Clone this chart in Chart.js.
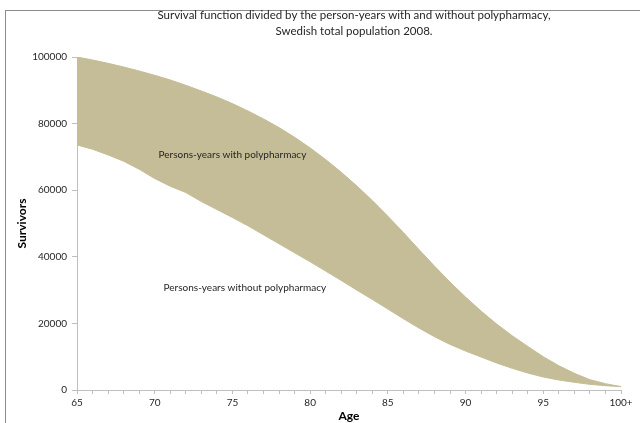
<!DOCTYPE html>
<html>
<head>
<meta charset="utf-8">
<script src="https://cdn.jsdelivr.net/npm/chart.js@4.4.1/dist/chart.umd.min.js"></script>
<style>
  html, body { margin: 0; padding: 0; background: #fff; }
  #wrap { position: relative; width: 640px; height: 423px; overflow: hidden; }
  #frame { position: absolute; left: 5px; top: 10px; width: 700px; height: 500px; border: 1px solid #8c8c8c; box-sizing: border-box; }
  canvas { position: absolute; left: 0; top: 0; }
</style>
</head>
<body>
<div id="wrap">
  <div id="frame"></div>
  <canvas id="survivalChart" width="640" height="423"></canvas>
</div>
<script>
// Age groups on the x axis
const ageLabels = ["65", "66", "67", "68", "69", "70", "71", "72", "73", "74",
  "75", "76", "77", "78", "79", "80", "81", "82", "83", "84",
  "85", "86", "87", "88", "89", "90", "91", "92", "93", "94",
  "95", "96", "97", "98", "99", "100+"];

// Survivors without polypharmacy (lower edge of the band)
const survivorsWithout = [73600, 72300, 70600, 68700, 66300, 63500, 61200, 59300, 56600, 54200,
  51800, 49300, 46600, 43900, 41200, 38500, 35700, 32900, 30000, 27200,
  24300, 21400, 18600, 16000, 13700, 11700, 9900, 8100, 6500, 5100,
  3900, 3000, 2300, 1700, 1300, 1000];

// All survivors (upper edge of the band)
const survivorsTotal = [100000, 99100, 98100, 97000, 95800, 94500, 93100, 91500, 89800, 88000,
  86000, 83800, 81400, 78800, 75900, 72700, 69200, 65400, 61300, 56900,
  52200, 47300, 42200, 37200, 32400, 27900, 23700, 19800, 16300, 13100,
  10000, 7300, 5000, 3100, 1900, 1000];

const yTicks = [0, 20000, 40000, 60000, 80000, 100000];

const titleLines = [
  "Survival function divided by the person-years with and without polypharmacy,",
  "Swedish total population 2008."
];

// band labels, placed in data coordinates (category index, survivors)
const bandLabels = [
  { text: "Persons-years with polypharmacy", at: 10, value: 70500 },
  { text: "Persons-years without polypharmacy", at: 10.8, value: 30600 }
];

const bandColor = "#C4BD97";
const axisColor = "#bfbfbf";
const textColor = "#262626";
const fontFamily = "Lato, 'Open Sans', sans-serif";

const textPlugin = {
  id: "chartTexts",
  afterDraw(chart) {
    const { ctx, chartArea, scales } = chart;
    ctx.save();
    ctx.fillStyle = textColor;
    ctx.textAlign = "center";
    ctx.textBaseline = "middle";

    ctx.font = "11.5px " + fontFamily;
    const cx = (chartArea.left + chartArea.right) / 2 + 5;
    titleLines.forEach((line, i) => {
      ctx.fillText(line, cx, 15 + i * 16);
    });

    ctx.font = "10px " + fontFamily;
    bandLabels.forEach((lbl) => {
      const x = scales.x.getPixelForValue(lbl.at);
      const y = scales.y.getPixelForValue(lbl.value);
      ctx.fillText(lbl.text, x, y);
    });
    ctx.restore();
  }
};

const ctx = document.getElementById("survivalChart").getContext("2d");

new Chart(ctx, {
  type: "line",
  data: {
    labels: ageLabels,
    datasets: [
      {
        label: "Persons-years without polypharmacy",
        data: survivorsWithout,
        borderColor: bandColor,
        borderWidth: 1,
        pointRadius: 0,
        tension: 0,
        fill: false
      },
      {
        label: "Persons-years with polypharmacy",
        data: survivorsTotal,
        borderColor: bandColor,
        borderWidth: 1,
        backgroundColor: bandColor,
        pointRadius: 0,
        tension: 0,
        fill: "-1"
      }
    ]
  },
  options: {
    responsive: false,
    animation: false,
    layout: {
      padding: { left: 6, right: 19, top: 57, bottom: 0 }
    },
    plugins: {
      legend: { display: false },
      title: { display: false },
      tooltip: { enabled: false }
    },
    scales: {
      x: {
        offset: false,
        border: { color: axisColor },
        grid: { display: true, drawOnChartArea: false, drawTicks: true, tickLength: 4, color: axisColor },
        ticks: {
          autoSkip: false,
          maxRotation: 0,
          padding: 3,
          color: textColor,
          font: { family: fontFamily, size: 10 },
          callback: (v, i) => (i % 5 === 0 ? ageLabels[i] : "")
        },
        title: {
          display: true,
          text: "Age",
          color: "#000",
          padding: { top: 0, bottom: 0 },
          font: { family: fontFamily, size: 12, weight: "bold" }
        },
        afterFit(scale) { scale.height = 33; }
      },
      y: {
        min: 0,
        max: 100000,
        border: { color: axisColor },
        grid: { display: true, drawOnChartArea: false, drawTicks: true, tickLength: 5, color: axisColor },
        afterBuildTicks(scale) { scale.ticks = yTicks.map(v => ({ value: v })); },
        ticks: {
          padding: 5,
          color: textColor,
          font: { family: fontFamily, size: 10 },
          callback: (v) => String(v)
        },
        title: {
          display: true,
          text: "Survivors",
          color: "#000",
          padding: { top: 9, bottom: 0 },
          font: { family: fontFamily, size: 12, weight: "bold" }
        },
        afterFit(scale) { scale.width = 71; }
      }
    }
  },
  plugins: [textPlugin]
});
</script>
</body>
</html>
